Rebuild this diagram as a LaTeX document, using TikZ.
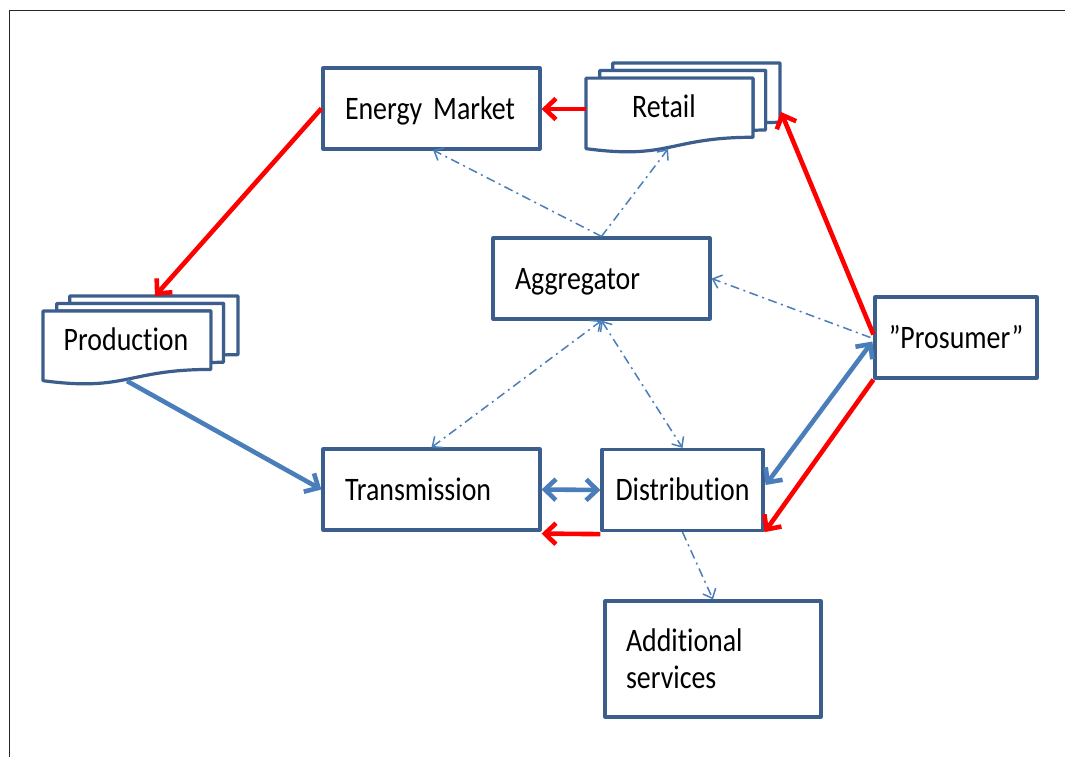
\documentclass[tikz,border=0pt]{standalone}
\usepackage{fontspec}
\usetikzlibrary{arrows.meta,calc}
\newfontfamily\lblfont{Carlito}[FakeStretch=0.85, WordSpace=0.7, RawFeature=-liga]

\definecolor{boxblue}{HTML}{3B5E8C}
\definecolor{linkblue}{HTML}{4A7EBB}
\definecolor{flowred}{HTML}{FF0000}

\tikzset{
  lbl/.style={font=\lblfont\fontsize{32.8pt}{37pt}\selectfont, text=black,
              text height=21pt, text depth=0pt},
  box/.style={lbl, draw=boxblue, fill=white, line width=3.2pt, line join=round,
              inner sep=0pt, minimum height=81pt},
  bighead/.tip={Straight Barb[length=11pt,width=21pt]},
  thinhead/.tip={Straight Barb[length=8pt,width=14pt]},
  redflow/.style={draw=flowred, line width=4.6pt, -bighead},
  blueflow/.style={draw=linkblue, line width=4.6pt},
  info/.style={draw=linkblue, line width=1.5pt,
               dash pattern=on 9pt off 4.5pt on 2pt off 4.5pt},
  docline/.style={draw=boxblue, fill=white, line width=3.2pt, line join=round},
  pics/multidoc/.style={code={
    % back sheet
    \path[docline] (0.1376,0.0840) -- (0.1376,0) -- (1,0) -- (1,0.6663)
      .. controls (0.9630,0.6663) and (0.9259,0.6698) .. (0.9259,0.6698)
      -- (0.9259,0.0840) -- cycle;
    % middle sheet
    \path[docline] (0.0709,0.1701) -- (0.0709,0.0840) -- (0.9259,0.0840) -- (0.9259,0.7524)
      .. controls (0.8934,0.7524) and (0.8609,0.7570) .. (0.8609,0.7570)
      -- (0.8609,0.1701) -- cycle;
    % front sheet with wavy lower edge
    \path[docline] (0,0.9621) .. controls (0.4305,1.0899) and (0.4305,0.8344) .. (0.8609,0.8344)
      -- (0.8609,0.1701) -- (0,0.1701) -- cycle;
  }}
}

\begin{document}
\begin{tikzpicture}[x=1pt,y=-1pt]
\useasboundingbox (0,0) rectangle (1065,756);
\fill[white] (0,0) rectangle (1065,756);

% outer frame
\draw[black!85, line width=1.6pt] (9.5,760) -- (9.5,10.5) -- (1070,10.5);

% stacked documents
\pic[xscale=194, yscale=89] at (586,63) {multidoc};
\pic[xscale=195, yscale=88] at (43,296) {multidoc};
\node[lbl, inner sep=0pt] (retail) at (664,107) {Retail};
\node[lbl, inner sep=0pt] (prod) at (126,340) {Production};

% boxes
\node[box, minimum width=217pt, text width=173pt, align=left] (em) at (431.5,108.5) {Energy Market};
\node[box, minimum width=217pt, text width=173pt, align=left] (agg) at (601.5,278.5) {Aggregator};
\node[box, minimum width=217pt, text width=173pt, align=left] (trans) at (431.5,489.5) {Transmission};
\node[box, minimum width=161pt, align=center] (dist) at (682.5,490) {Distribution};
\node[box, minimum width=162pt, align=center] (pros) at (956,337.5) {”Prosumer”};
\node[box, minimum width=216pt, minimum height=116pt, text width=174pt, align=left,
      text depth=37pt] (add) at (713,659) {Additional\\services};

% connector end points on the document stacks
\coordinate (retL) at (586,109);
\coordinate (retB) at (668,149);
\coordinate (retR) at (781,112);
\coordinate (prodT) at (155,296);
\coordinate (prodB) at (127,381);

% money / contract flows
\draw[redflow] (retL) -- (retL -| em.east);
\draw[redflow] (em.west) -- (prodT);
\draw[redflow] ($(pros.west)+(0,-3)$) -- (retR);
\draw[redflow] (pros.south west) -- (dist.south east);
\draw[redflow] ($(dist.south west)+(0,2)$) -- ($(trans.south east)+(0,2)$);

% energy flows
\draw[blueflow, -bighead] (prodB) -- (trans.west);
\draw[blueflow, bighead-bighead] (trans.east) -- (dist.west);
\draw[blueflow, bighead-bighead] ($(pros.west)+(-1,4)$) -- ($(dist.east)+(1,-5)$);

% information exchange
\draw[info, -thinhead] (agg.north) -- (433,150);
\draw[info, -thinhead] (agg.north) -- (retB);
\draw[info, -thinhead] ($(pros.west)+(-3,0)$) -- (agg.east);
\draw[info, thinhead-thinhead] (trans.north) -- (agg.south);
\draw[info, thinhead-thinhead] (agg.south) -- (dist.north);
\draw[info, -thinhead] (dist.south) -- (add.north);
\end{tikzpicture}
\end{document}
